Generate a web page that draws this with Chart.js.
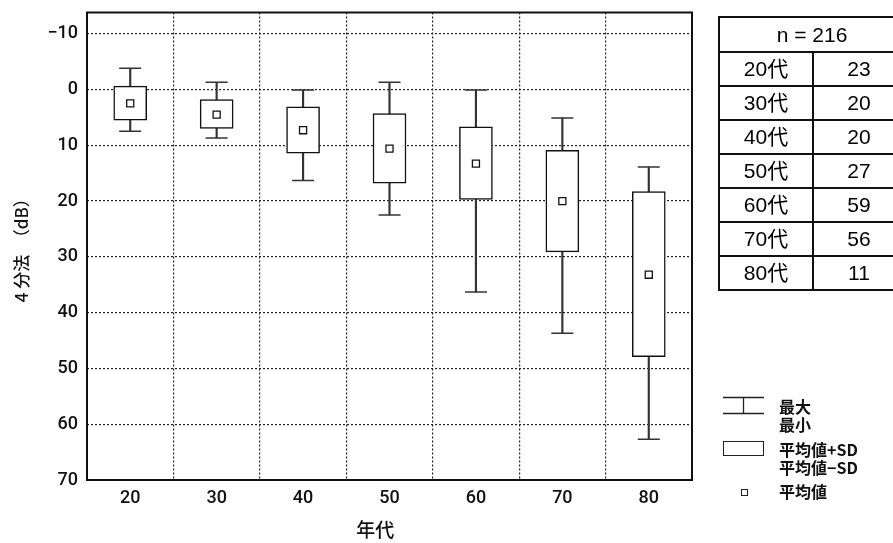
<!DOCTYPE html>
<html>
<head>
<meta charset="utf-8">
<script src="https://cdn.jsdelivr.net/npm/chart.js@4/dist/chart.umd.min.js"></script>
<style>
  html, body { margin: 0; padding: 0; background: #fff; overflow: hidden; }
  #wrap { position: relative; width: 893px; height: 543px; overflow: hidden; }
  #c { position: absolute; left: 0; top: 0; }
  table.n { position: absolute; left: 718px; top: 16px; width: 188px; border-collapse: collapse;
    font-family: "Liberation Sans", Arial, "Noto Sans CJK JP", sans-serif; font-size: 21px; color: #000; }
  table.n td { border: 2px solid #111; text-align: center; padding: 0; height: 32px; line-height: 32px; }
  table.n tr.h td { height: 33px; line-height: 33px; }
  table.n { border: 2px solid #111; }
  .lg { position: absolute; font-family: "Noto Sans CJK JP", sans-serif; font-weight: 700; font-size: 16px; color: #111; line-height: 18px; }
  .sym { position: absolute; }
</style>
</head>
<body>
<div id="wrap">
  <canvas id="c" width="893" height="543"></canvas>
  <table class="n" id="ntable"></table>
  <svg class="sym" style="left:722px;top:396px" width="44" height="20">
    <line x1="1" y1="1.5" x2="42" y2="1.5" stroke="#222" stroke-width="1.3"/>
    <line x1="1" y1="17.5" x2="42" y2="17.5" stroke="#222" stroke-width="1.3"/>
    <line x1="21.5" y1="1.5" x2="21.5" y2="17.5" stroke="#222" stroke-width="1.3"/>
  </svg>
  <div class="lg" style="left:779px;top:397px">最大<br>最小</div>
  <div class="sym" style="left:723px;top:441px;width:39px;height:13px;border:1.3px solid #222"></div>
  <div class="lg" style="left:779px;top:440px">平均値+SD<br>平均値−SD</div>
  <div class="sym" style="left:741px;top:489px;width:5px;height:5px;border:1.3px solid #222"></div>
  <div class="lg" style="left:779px;top:482px">平均値</div>
</div>
<script>
// ---- data ----
const ageLabels = ["20", "30", "40", "50", "60", "70", "80"];
const whiskerTop = [-3.8, -1.3, 0.1, -1.3, 0.1, 5.1, 13.9];      // 最大 cap (upper end on reversed axis)
const boxTop = [-0.6, 1.8, 3.1, 4.3, 6.7, 10.9, 18.3];           // 平均値−SD
const meanVals = [2.5, 4.5, 7.3, 10.6, 13.3, 20.0, 33.2];        // 平均値
const boxBottom = [5.5, 7.0, 11.4, 16.8, 19.7, 29.1, 47.9];      // 平均値+SD
const whiskerBottom = [7.5, 8.7, 16.3, 22.5, 36.3, 43.7, 62.7];  // 最小 cap (lower end on reversed axis)
const yTickValues = [-10, 0, 10, 20, 30, 40, 50, 60, 70];
const tableHeader = "n = 216";
const tableRows = ["20代", "30代", "40代", "50代", "60代", "70代", "80代"];
const tableCounts = [23, 20, 20, 27, 59, 56, 11];

// ---- table ----
const tbl = document.getElementById('ntable');
let html = '<tr class="h"><td colspan="2">' + tableHeader + '</td></tr>';
tableRows.forEach((r, i) => {
  html += '<tr><td style="width:92px">' + r + '</td><td>' + tableCounts[i] + '</td></tr>';
});
tbl.innerHTML = html;

// ---- chart ----
const framePlugin = {
  id: 'frame',
  afterDraw(chart) {
    const {ctx, chartArea: a} = chart;
    ctx.save();
    ctx.strokeStyle = '#111';
    ctx.lineWidth = 2;
    ctx.strokeRect(a.left, a.top, a.right - a.left, a.bottom - a.top);
    ctx.restore();
  }
};

const tickFont = { family: "Roboto, 'Liberation Sans', sans-serif", size: 18, weight: '500' };

new Chart(document.getElementById('c'), {
  type: 'bar',
  data: {
    labels: ageLabels,
    datasets: [
      {
        type: 'bar',
        data: ageLabels.map((_, i) => [whiskerTop[i], whiskerBottom[i]]),
        backgroundColor: '#333',
        borderWidth: 0,
        barThickness: 1.5,
        grouped: false,
        order: 5
      },
      {
        type: 'bar',
        data: ageLabels.map((_, i) => [boxTop[i], boxBottom[i]]),
        backgroundColor: '#ffffff',
        borderColor: '#111',
        borderWidth: 1.5,
        borderSkipped: false,
        barThickness: 33,
        grouped: false,
        order: 4
      },
      {
        type: 'line',
        data: whiskerTop,
        showLine: false,
        pointStyle: 'line',
        pointRadius: 11,
        pointBorderColor: '#333',
        pointBorderWidth: 1.5,
        order: 3
      },
      {
        type: 'line',
        data: whiskerBottom,
        showLine: false,
        pointStyle: 'line',
        pointRadius: 11,
        pointBorderColor: '#333',
        pointBorderWidth: 1.5,
        order: 2
      },
      {
        type: 'line',
        data: meanVals,
        showLine: false,
        pointStyle: 'rect',
        pointRadius: 5,
        pointBackgroundColor: '#ffffff',
        pointBorderColor: '#111',
        pointBorderWidth: 1.3,
        order: 1
      }
    ]
  },
  options: {
    responsive: false,
    animation: false,
    events: [],
    layout: { padding: { left: 0, top: 12, right: 201, bottom: 0 } },
    plugins: { legend: { display: false }, tooltip: { enabled: false } },
    scales: {
      x: {
        type: 'category',
        offset: true,
        grid: { offset: true, color: '#222', lineWidth: 1.2, drawTicks: false },
        border: { display: false, dash: [2, 2] },
        ticks: { color: '#111', font: tickFont, padding: 8 },
        title: { display: true, text: '年代\u3000\u2002', color: '#111',
          font: { family: "'Noto Sans CJK JP', sans-serif", size: 19, weight: '500' },
          padding: { top: 0, bottom: 2 } },
        afterFit(scale) { scale.height = 63; }
      },
      y: {
        type: 'linear',
        reverse: true,
        min: -13.8,
        max: 70,
        afterBuildTicks(scale) { scale.ticks = yTickValues.map(v => ({ value: v })); },
        grid: { color: '#222', lineWidth: 1.2, drawTicks: false },
        border: { display: false, dash: [2, 2] },
        ticks: { color: '#111', font: tickFont, padding: 9,
          callback: v => (v < 0 ? '\u2212' + Math.abs(v) : String(v)) },
        title: { display: true, text: '4 分法\u3000（dB）', color: '#111',
          font: { family: "'Noto Sans CJK JP', sans-serif", size: 17, weight: '500' },
          padding: { top: 11, bottom: 0 } },
        afterFit(scale) { scale.width = 87; scale.paddingTop = 0; scale.paddingBottom = 0; }
      }
    }
  },
  plugins: [framePlugin]
});
</script>
</body>
</html>
